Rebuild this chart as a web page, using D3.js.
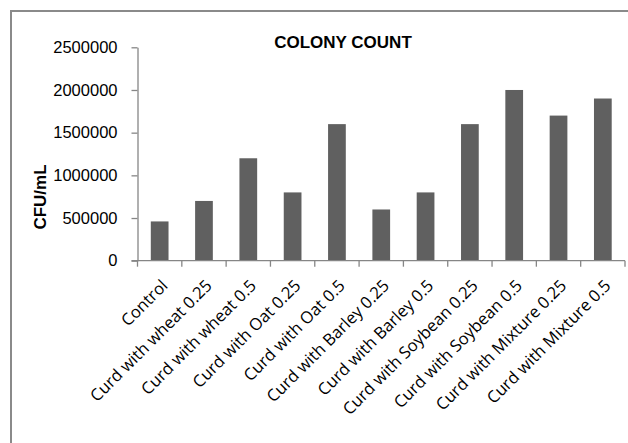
<!DOCTYPE html>
<html>
<head>
<meta charset="utf-8">
<script src="https://cdn.jsdelivr.net/npm/d3@7"></script>
<style>
  body { margin: 0; background: #fff; }
  svg { display: block; }
</style>
</head>
<body>
<div id="chart"></div>
<script>
var categories = ['Control', 'Curd with wheat 0.25', 'Curd with wheat 0.5', 'Curd with Oat 0.25',
  'Curd with Oat 0.5', 'Curd with Barley 0.25', 'Curd with Barley 0.5', 'Curd with Soybean 0.25',
  'Curd with Soybean 0.5', 'Curd with Mixture 0.25', 'Curd with Mixture 0.5'];
var counts = [460000, 700000, 1200000, 800000, 1600000, 600000, 800000, 1600000, 2000000, 1700000, 1900000];
var yTicks = [0, 500000, 1000000, 1500000, 2000000, 2500000];

var width = 628, height = 443;
var margin = {left: 137.5, right: 3, top: 47.3, bottom: 182.3};

var svg = d3.select('#chart').append('svg')
  .attr('width', width)
  .attr('height', height);

// outer chart frame (runs off the right and bottom edges)
svg.append('rect')
  .attr('x', 11).attr('y', 11)
  .attr('width', 640).attr('height', 460)
  .attr('fill', 'none')
  .attr('stroke', '#8a8a8a')
  .attr('stroke-width', 2);

var x = d3.scaleBand()
  .domain(categories)
  .range([margin.left, width - margin.right])
  .paddingInner(0.6)
  .paddingOuter(0.3);

var y = d3.scaleLinear()
  .domain([0, 2500000])
  .range([height - margin.bottom, margin.top]);

var axisColor = '#868686';

// bars
svg.append('g').selectAll('rect')
  .data(counts)
  .enter()
  .append('rect')
  .attr('x', function(d, i) { return x(categories[i]); })
  .attr('y', function(d) { return y(d); })
  .attr('width', x.bandwidth())
  .attr('height', function(d) { return y(0) - y(d); })
  .attr('fill', '#606060');

// y axis
var yAxis = svg.append('g')
  .attr('transform', 'translate(' + margin.left + ',0)')
  .call(d3.axisLeft(y).tickValues(yTicks).tickSize(6).tickSizeOuter(0).tickPadding(14)
    .tickFormat(d3.format('d')));
yAxis.selectAll('line, path').attr('stroke', axisColor).attr('stroke-width', 1.3);
yAxis.selectAll('text')
  .attr('fill', '#000')
  .style('font-family', 'Liberation Sans, Arial, sans-serif')
  .style('font-size', '16.5px');

// x axis: ticks sit on band edges
var xEdge = d3.scaleLinear().domain([0, categories.length]).range([margin.left, width - margin.right]);
var xAxis = svg.append('g')
  .attr('transform', 'translate(0,' + y(0) + ')');
xAxis.append('line')
  .attr('x1', margin.left - 6).attr('x2', width - margin.right)
  .attr('stroke', axisColor).attr('stroke-width', 1.3);
xAxis.selectAll('.tick')
  .data(d3.range(categories.length + 1))
  .enter()
  .append('line')
  .attr('x1', function(d) { return xEdge(d); })
  .attr('x2', function(d) { return xEdge(d); })
  .attr('y1', 0).attr('y2', 6)
  .attr('stroke', axisColor).attr('stroke-width', 1.3);

xAxis.selectAll('.label')
  .data(categories)
  .enter()
  .append('text')
  .attr('class', 'label')
  .attr('text-anchor', 'end')
  .attr('transform', function(d) {
    return 'translate(' + (x(d) + x.bandwidth() / 2 + 9) + ',' + 26 + ') rotate(-45)';
  })
  .style('font-family', 'Open Sans, sans-serif')
  .style('font-size', '16.6px')
  .attr('fill', '#000')
  .text(function(d) { return d; });

// title
svg.append('text')
  .attr('x', 343).attr('y', 48)
  .attr('text-anchor', 'middle')
  .style('font-family', 'Liberation Sans Narrow, Arial Narrow, sans-serif')
  .style('font-weight', 'bold')
  .style('font-size', '17px')
  .text('COLONY COUNT');

// y axis title
svg.append('text')
  .attr('transform', 'translate(46,197) rotate(-90)')
  .attr('text-anchor', 'middle')
  .style('font-family', 'Liberation Sans Narrow, Arial Narrow, sans-serif')
  .style('font-weight', 'bold')
  .style('font-size', '17px')
  .text('CFU/mL');
</script>
</body>
</html>
